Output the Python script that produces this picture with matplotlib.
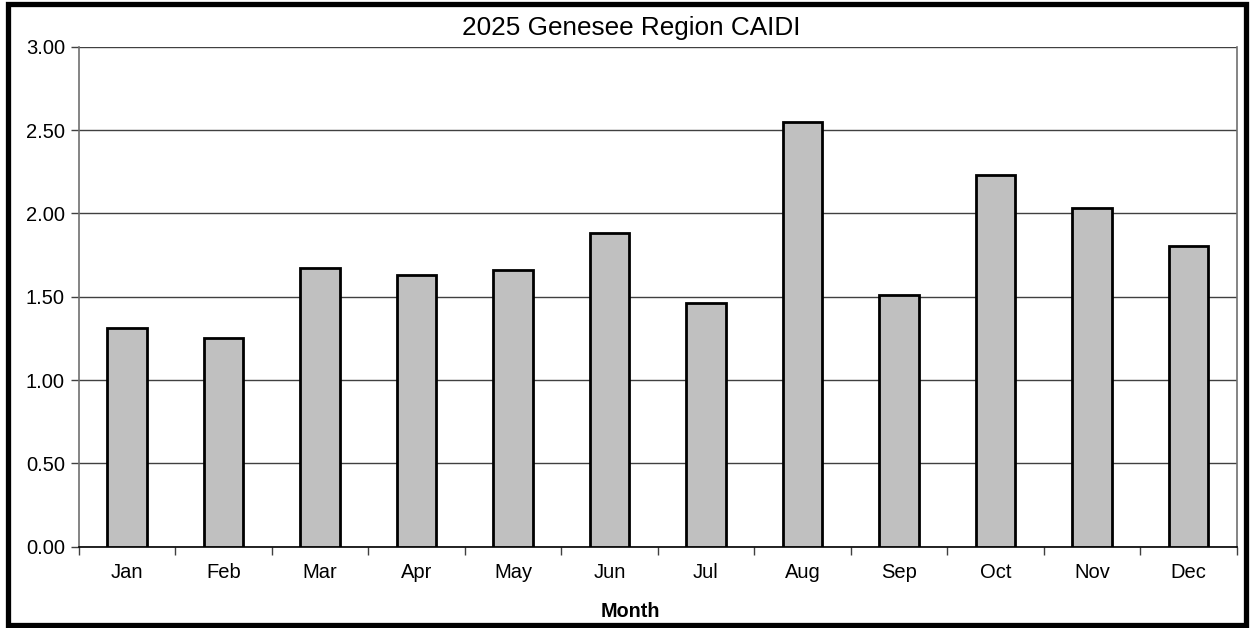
import numpy as np
import matplotlib.pyplot as plt
from matplotlib.patches import Rectangle

plt.rcParams['font.family'] = ['Liberation Sans', 'DejaVu Sans']

months = ['Jan', 'Feb', 'Mar', 'Apr', 'May', 'Jun',
          'Jul', 'Aug', 'Sep', 'Oct', 'Nov', 'Dec']
caidi = [1.31, 1.25, 1.675, 1.63, 1.66, 1.885,
         1.465, 2.55, 1.51, 2.23, 2.03, 1.805]
y_ticks = [0.0, 0.5, 1.0, 1.5, 2.0, 2.5, 3.0]

fig = plt.figure(figsize=(12.5, 6.28), dpi=100)
ax = fig.add_axes([0.063, 0.1295, 0.9264, 0.7961])

x = np.arange(len(months))
ax.bar(x, caidi, width=0.41, color='#c0c0c0', edgecolor='black',
       linewidth=2, zorder=3)

ax.set_xlim(-0.5, len(months) - 0.5)
ax.set_ylim(0, 3)
ax.set_yticks(y_ticks)
ax.set_yticklabels([f'{v:.2f}' for v in y_ticks])
ax.yaxis.grid(True, color='#404040', linewidth=1)
ax.set_axisbelow(True)

# month labels sit between the boundary ticks
ax.set_xticks(np.arange(len(months) + 1) - 0.5)
ax.set_xticklabels([])
ax.set_xticks(x, minor=True)
ax.set_xticklabels(months, minor=True)
ax.tick_params(axis='x', which='minor', length=0, pad=12, labelsize=14.5)
ax.tick_params(axis='x', which='major', length=6, width=1, color='#404040')
ax.tick_params(axis='y', length=6, width=1, color='#404040', labelsize=14.5, pad=4)

for side in ['left', 'right']:
    ax.spines[side].set_color('#707070')
    ax.spines[side].set_linewidth(1.2)
ax.spines['top'].set_visible(False)
ax.spines['bottom'].set_color('black')
ax.spines['bottom'].set_linewidth(1.2)

fig.text(0.504, 0.018, 'Month', ha='center', va='baseline',
         fontsize=14.2, fontweight='bold')
fig.text(0.505, 0.9443, '2025 Genesee Region CAIDI', ha='center',
         va='baseline', fontsize=18.8)

# heavy frame around the whole chart
fig.patches.append(Rectangle((0.006, 0.0048), 0.9905, 0.9885,
                             transform=fig.transFigure, fill=False,
                             edgecolor='black', linewidth=3.8))

fig.savefig('out.png', dpi=100, facecolor='white')
